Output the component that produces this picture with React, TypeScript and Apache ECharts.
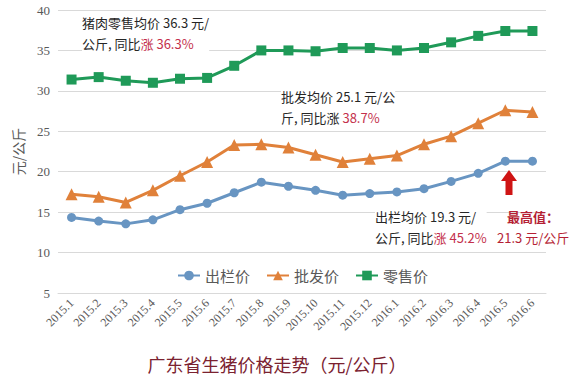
import React, { useEffect, useRef } from "react";
import * as echarts from "echarts";

const months = [
  "2015.1", "2015.2", "2015.3", "2015.4", "2015.5", "2015.6", "2015.7", "2015.8", "2015.9",
  "2015.10", "2015.11", "2015.12", "2016.1", "2016.2", "2016.3", "2016.4", "2016.5", "2016.6",
];
const farmGate = [14.35, 13.9, 13.55, 14.05, 15.3, 16.1, 17.4, 18.7, 18.2, 17.7, 17.1, 17.3, 17.5, 17.9, 18.8, 19.8, 21.3, 21.3];
const wholesale = [17.2, 16.9, 16.2, 17.7, 19.5, 21.2, 23.3, 23.4, 23.0, 22.1, 21.2, 21.6, 22.0, 23.4, 24.4, 26.0, 27.6, 27.4];
const retail = [31.4, 31.7, 31.25, 31.0, 31.5, 31.6, 33.1, 35.0, 35.0, 34.9, 35.3, 35.3, 35.0, 35.3, 36.0, 36.8, 37.4, 37.4];
const seriesNames = ["出栏价", "批发价", "零售价"];
const yTicks = { min: 5, max: 40, interval: 5 };
const titleText = "广东省生猪价格走势（元/公斤）";
const yName = "元/公斤";

const SANS = '"Noto Sans CJK SC", "Noto Sans", sans-serif';
const SERIF = '"Liberation Serif", "DejaVu Serif", serif';

export default function App() {
  const ref = useRef<HTMLDivElement>(null);
  useEffect(() => {
    if (!ref.current) return;
    const chart = echarts.init(ref.current, null, { renderer: "svg" });
    const red = "#c4304c";
    const noteStyle = (text: string) => ({
      text,
      fill: "#262626",
      fontSize: 13,
      fontFamily: SANS,
      lineHeight: 21,
      backgroundColor: "#fff",
      rich: {
        r: { fill: red, fontSize: 13, fontFamily: SANS, lineHeight: 21 },
      },
    });
    chart.setOption({
      animation: false,
      backgroundColor: "#fff",
      grid: { left: 58, right: 26, top: 10, bottom: 91, containLabel: false },
      title: {
        text: titleText,
        left: 272,
        textAlign: "center",
        top: 350,
        textStyle: { color: "#7b2230", fontSize: 18, fontWeight: "normal", fontFamily: SANS },
      },
      legend: {
        data: seriesNames,
        left: 172,
        top: 263,
        itemWidth: 22,
        itemHeight: 12,
        itemGap: 16,
        textStyle: { color: "#595959", fontSize: 15, fontFamily: SANS },
      },
      xAxis: {
        type: "category",
        data: months,
        boundaryGap: true,
        axisLine: { show: true, lineStyle: { color: "#d9d9d9" } },
        axisTick: { show: false },
        axisLabel: {
          rotate: 45,
          interval: 0,
          color: "#595959",
          fontSize: 12,
          fontFamily: SERIF,
          margin: 8,
        },
      },
      yAxis: {
        type: "value",
        min: yTicks.min,
        max: yTicks.max,
        interval: yTicks.interval,
        name: yName,
        nameLocation: "middle",
        nameGap: 33,
        nameTextStyle: { color: "#595959", fontSize: 14, fontFamily: SANS },
        axisLine: { show: false },
        axisTick: { show: false },
        axisLabel: { color: "#595959", fontSize: 13, fontFamily: SERIF, margin: 8 },
        splitLine: { lineStyle: { color: "#d9d9d9", width: 1 } },
      },
      series: [
        {
          name: seriesNames[0],
          type: "line",
          data: farmGate,
          symbol: "circle",
          symbolSize: 9,
          lineStyle: { color: "#6895c2", width: 3 },
          itemStyle: { color: "#6895c2" },
          z: 3,
        },
        {
          name: seriesNames[1],
          type: "line",
          data: wholesale,
          symbol: "triangle",
          symbolSize: 12,
          lineStyle: { color: "#e0813a", width: 3 },
          itemStyle: { color: "#e0813a" },
          z: 3,
        },
        {
          name: seriesNames[2],
          type: "line",
          data: retail,
          symbol: "rect",
          symbolSize: 10,
          lineStyle: { color: "#1f9a58", width: 3 },
          itemStyle: { color: "#1f9a58" },
          z: 3,
        },
      ],
      graphic: [
        {
          type: "text",
          left: 82,
          top: 12,
          z: 1,
          style: noteStyle("猪肉零售均价 36.3 元/\n公斤, 同比{r|涨 36.3%}"),
        },
        {
          type: "text",
          left: 281,
          top: 86,
          z: 1,
          style: noteStyle("批发均价 25.1 元/公\n斤, 同比涨 {r|38.7%}"),
        },
        {
          type: "text",
          left: 375,
          top: 206,
          z: 1,
          style: noteStyle("出栏均价 19.3 元/\n公斤, 同比{r|涨 45.2%}"),
        },
        {
          type: "text",
          left: 507,
          top: 206,
          z: 1,
          style: {
            text: "最高值：",
            fill: "#b51f35",
            fontSize: 13,
            fontWeight: "bold",
            fontFamily: SANS,
            lineHeight: 21,
          },
        },
        {
          type: "text",
          left: 497,
          top: 227,
          z: 1,
          style: {
            text: "21.3 元/公斤",
            fill: "#b51f35",
            fontSize: 13,
            fontFamily: SANS,
            lineHeight: 21,
            backgroundColor: "#fff",
          },
        },
        {
          type: "polygon",
          z: 5,
          shape: {
            points: [
              [509, 170],
              [501, 181],
              [505.5, 181],
              [505.5, 195],
              [512.5, 195],
              [512.5, 181],
              [517, 181],
            ],
          },
          style: { fill: "#cf1414" },
        },
      ],
    });
    return () => chart.dispose();
  }, []);
  return (
    <div
      ref={ref}
      style={{ position: "fixed", left: 0, top: 0, width: 572, height: 384, background: "#fff" }}
    />
  );
}
